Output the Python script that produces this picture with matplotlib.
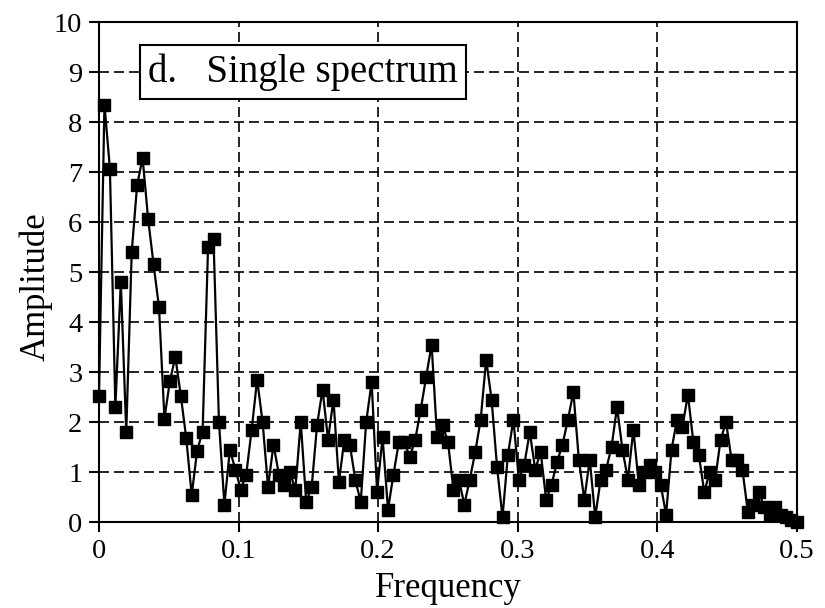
import numpy as np
import matplotlib
matplotlib.use("Agg")
import matplotlib.pyplot as plt

plt.rcParams['font.family'] = ['Liberation Serif', 'DejaVu Serif']

n_points = 129
frequency = [k / 256 for k in range(n_points)]
amplitude = [
    2.53, 8.35, 7.07, 2.3, 4.8, 1.8, 5.4, 6.75, 7.28, 6.07,
    5.16, 4.3, 2.07, 2.82, 3.3, 2.53, 1.68, 0.54, 1.43, 1.81,
    5.5, 5.67, 2.0, 0.35, 1.45, 1.05, 0.65, 0.95, 1.85, 2.85,
    2.0, 0.7, 1.55, 0.95, 0.75, 1.0, 0.65, 2.0, 0.4, 0.7,
    1.95, 2.65, 1.65, 2.45, 0.8, 1.65, 1.55, 0.85, 0.4, 2.0,
    2.8, 0.6, 1.7, 0.25, 0.95, 1.6, 1.6, 1.3, 1.65, 2.25,
    2.9, 3.55, 1.7, 1.95, 1.6, 0.65, 0.85, 0.35, 0.85, 1.4,
    2.05, 3.25, 2.45, 1.1, 0.1, 1.35, 2.05, 0.85, 1.15, 1.8,
    1.05, 1.4, 0.45, 0.75, 1.2, 1.55, 2.05, 2.6, 1.25, 0.45,
    1.25, 0.1, 0.85, 1.05, 1.5, 2.3, 1.45, 0.85, 1.85, 0.75,
    1.0, 1.15, 1.0, 0.75, 0.15, 1.45, 2.05, 1.9, 2.55, 1.6,
    1.35, 0.6, 1.0, 0.85, 1.65, 2.0, 1.25, 1.25, 1.05, 0.2,
    0.35, 0.6, 0.3, 0.15, 0.3, 0.15, 0.1, 0.05, 0.0,
]
x_ticks = [0, 0.1, 0.2, 0.3, 0.4, 0.5]
x_tick_labels = ['0', '0.1', '0.2', '0.3', '0.4', '0.5']
y_ticks = list(range(0, 11))

fig = plt.figure(figsize=(8.25, 6.08), dpi=100)
ax = fig.add_axes([0.12, 0.1414, 0.846, 0.8224])

ax.plot(frequency, amplitude, color='black', linewidth=1.6, marker='s',
        markersize=8.5, markerfacecolor='black', markeredgecolor='black',
        clip_on=False, zorder=3)

ax.set_xlim(0, 0.5)
ax.set_ylim(0, 10)
ax.set_xticks(x_ticks)
ax.set_xticklabels(x_tick_labels)
ax.set_yticks(y_ticks)

ax.grid(True, color='black', linestyle=(0, (6, 3)), linewidth=1.2)
ax.set_axisbelow(True)

for s in ax.spines.values():
    s.set_linewidth(1.5)
    s.set_color('black')

ax.tick_params(direction='out', length=7, width=1.5, labelsize=20.5, colors='black', pad=5)

ax.set_xlabel('Frequency', fontsize=25)
ax.set_ylabel('Amplitude', fontsize=25)
ax.xaxis.set_label_coords(0.5, -0.10)
ax.yaxis.set_label_coords(-0.067, 0.47)

ax.text(0.070, 0.90, 'd.   Single spectrum', transform=ax.transAxes,
        fontsize=28, va='center', ha='left', zorder=5,
        bbox=dict(boxstyle='square,pad=0.2', facecolor='white', edgecolor='black', linewidth=1.5))

fig.savefig('out.png', dpi=100)
